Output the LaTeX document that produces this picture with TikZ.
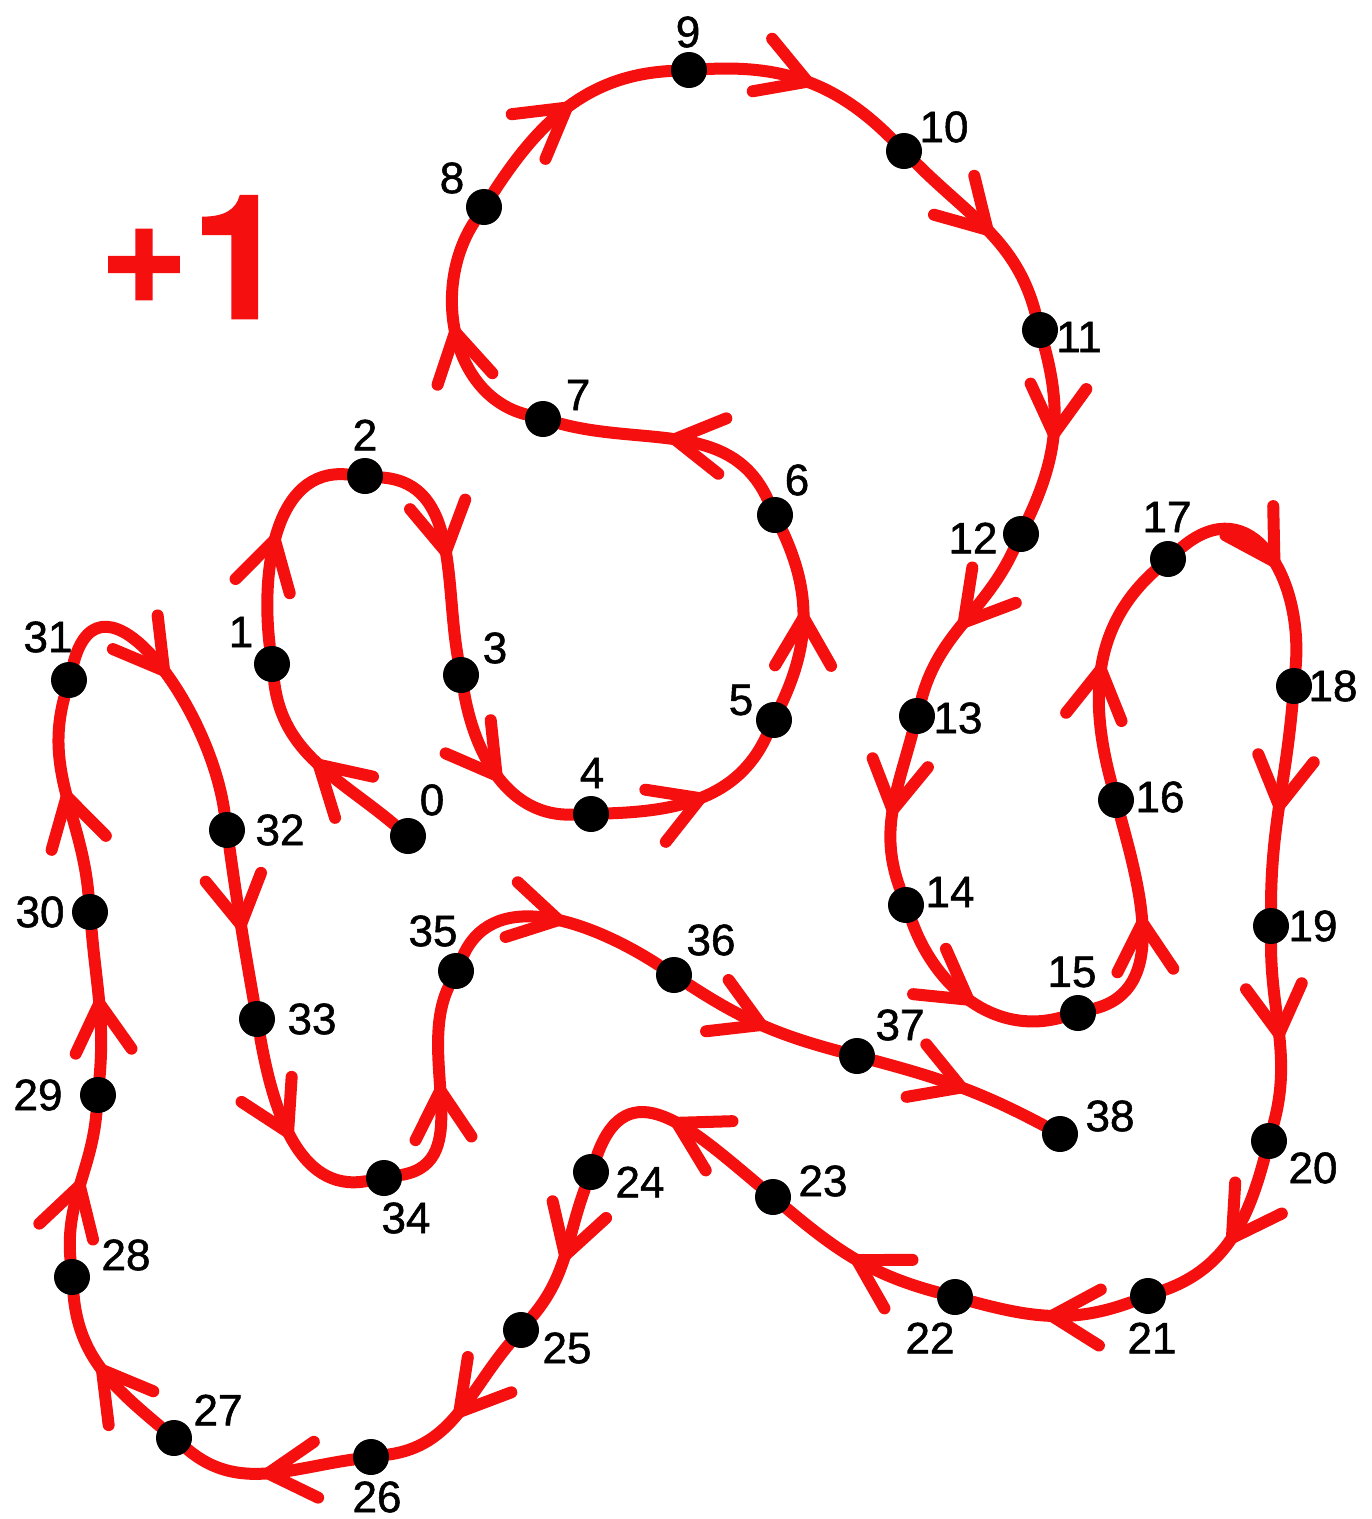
\documentclass[tikz,border=0pt]{standalone}
\usepackage{fontspec}
\usetikzlibrary{decorations.markings}
\newfontfamily\labfont[FakeBold=1.2]{Liberation Sans}
\newfontfamily\plusfont[FakeBold=1.5]{TeX Gyre Heros}
\definecolor{pathred}{RGB}{245,15,15}
\pgfdeclarelayer{back}
\pgfdeclarelayer{bg}
\pgfsetlayers{back,bg,main}
\begin{document}
\begin{tikzpicture}[x=1pt,y=1pt,
  dot/.style={circle,fill=black,inner sep=0pt,minimum size=36pt},
  num/.style={font=\labfont\fontsize{44}{44}\selectfont,inner sep=0pt},
  seg/.style={draw=pathred,line width=12pt,line cap=round},
  chev/.style={postaction={decorate,decoration={markings,mark=at position #1 with {\draw[pathred,line width=12pt,line cap=round,line join=round] (-48pt,28pt) -- (0pt,0pt) -- (-48pt,-28pt);}}}},
  chev/.default=0.5]
\begin{pgfonlayer}{back}
\fill[white] (0,0) rectangle (1372,-1519);
\end{pgfonlayer}
\useasboundingbox (0,0) rectangle (1372,-1519);
% title
\node[font=\plusfont\bfseries\fontsize{172}{172}\selectfont, text=pathred, inner sep=0pt, anchor=base west] (plus) at (100,-318) {{\fontsize{150}{150}\selectfont\raisebox{16pt}{+}}\kern4pt 1};
% dots
\node[dot] (n0) at (408,-836) {};
\node[dot] (n1) at (272,-664) {};
\node[dot] (n2) at (365,-476) {};
\node[dot] (n3) at (461,-675) {};
\node[dot] (n4) at (591,-814) {};
\node[dot] (n5) at (774,-720) {};
\node[dot] (n6) at (775,-515) {};
\node[dot] (n7) at (543,-419) {};
\node[dot] (n8) at (484,-207) {};
\node[dot] (n9) at (689,-70) {};
\node[dot] (n10) at (904,-151) {};
\node[dot] (n11) at (1040,-330) {};
\node[dot] (n12) at (1021,-534) {};
\node[dot] (n13) at (917,-716) {};
\node[dot] (n14) at (906,-905) {};
\node[dot] (n15) at (1078,-1013) {};
\node[dot] (n16) at (1116,-800) {};
\node[dot] (n17) at (1168,-559) {};
\node[dot] (n18) at (1294,-686) {};
\node[dot] (n19) at (1271,-926) {};
\node[dot] (n20) at (1269,-1141) {};
\node[dot] (n21) at (1148,-1296) {};
\node[dot] (n22) at (955,-1297) {};
\node[dot] (n23) at (773,-1197) {};
\node[dot] (n24) at (591,-1172) {};
\node[dot] (n25) at (521,-1330) {};
\node[dot] (n26) at (371,-1457) {};
\node[dot] (n27) at (174,-1438) {};
\node[dot] (n28) at (72,-1277) {};
\node[dot] (n29) at (98,-1095) {};
\node[dot] (n30) at (90,-912) {};
\node[dot] (n31) at (69,-680) {};
\node[dot] (n32) at (227,-830) {};
\node[dot] (n33) at (257,-1019) {};
\node[dot] (n34) at (384,-1178) {};
\node[dot] (n35) at (456,-971) {};
\node[dot] (n36) at (674,-975) {};
\node[dot] (n37) at (857,-1056) {};
\node[dot] (n38) at (1060,-1134) {};
% labels
\node[num] (l0) at (432,-800) {0};
\node[num] (l1) at (241,-632) {1};
\node[num] (l2) at (365,-435) {2};
\node[num] (l3) at (495,-648) {3};
\node[num] (l4) at (592,-773) {4};
\node[num] (l5) at (741,-700) {5};
\node[num] (l6) at (797,-480) {6};
\node[num] (l7) at (578,-395) {7};
\node[num] (l8) at (452,-178) {8};
\node[num] (l9) at (688,-32) {9};
\node[num] (l10) at (944,-127) {10};
\node[num] (l11) at (1079,-337) {11};
\node[num] (l12) at (973,-538) {12};
\node[num] (l13) at (958,-718) {13};
\node[num] (l14) at (950,-892) {14};
\node[num] (l15) at (1072,-972) {15};
\node[num] (l16) at (1160,-797) {16};
\node[num] (l17) at (1167,-517) {17};
\node[num] (l18) at (1333,-686) {18};
\node[num] (l19) at (1313,-926) {19};
\node[num] (l20) at (1313,-1168) {20};
\node[num] (l21) at (1152,-1338) {21};
\node[num] (l22) at (930,-1338) {22};
\node[num] (l23) at (823,-1181) {23};
\node[num] (l24) at (640,-1182) {24};
\node[num] (l25) at (567,-1348) {25};
\node[num] (l26) at (377,-1497) {26};
\node[num] (l27) at (218,-1410) {27};
\node[num] (l28) at (126,-1255) {28};
\node[num] (l29) at (38,-1095) {29};
\node[num] (l30) at (40,-912) {30};
\node[num] (l31) at (48,-637) {31};
\node[num] (l32) at (280,-830) {32};
\node[num] (l33) at (312,-1019) {33};
\node[num] (l34) at (406,-1218) {34};
\node[num] (l35) at (433,-931) {35};
\node[num] (l36) at (711,-940) {36};
\node[num] (l37) at (900,-1025) {37};
\node[num] (l38) at (1110,-1116) {38};
% path
\begin{pgfonlayer}{bg}
\draw[seg,chev] (n0) to[out=140,in=-83] (n1);
\draw[seg,chev] (n1) to[out=97,in=175] (n2);
\draw[seg,chev] (n2) to[out=-5,in=100] (n3);
\draw[seg,chev] (n3) to[out=-80,in=182] (n4);
\draw[seg,chev] (n4) to[out=2,in=245] (n5);
\draw[seg,chev] (n5) to[out=65,in=-65] (n6);
\draw[seg,chev] (n6) to[out=115,in=-15] (n7);
\draw[seg,chev] (n7) to[out=165,in=237] (n8);
\draw[seg,chev] (n8) to[out=57,in=183] (n9);
\draw[seg,chev] (n9) to[out=3,in=135] (n10);
\draw[seg,chev] (n10) to[out=-45,in=105] (n11);
\draw[seg,chev] (n11) to[out=-75,in=65] (n12);
\draw[seg,chev] (n12) to[out=-115,in=75] (n13);
\draw[seg,chev] (n13) to[out=-105,in=110] (n14);
\draw[seg,chev] (n14) to[out=-70,in=195] (n15);
\draw[seg,chev] (n15) to[out=15,in=-75] (n16);
\draw[seg,chev] (n16) to[out=105,in=222] (n17);
\draw[seg,chev] (n17) to[out=40,in=85,looseness=1.4] (n18);
\draw[seg,chev] (n18) to[out=-95,in=90] (n19);
\draw[seg,chev] (n19) to[out=-90,in=75] (n20);
\draw[seg,chev] (n20) to[out=-105,in=20] (n21);
\draw[seg,chev] (n21) to[out=-160,in=-15] (n22);
\draw[seg,chev] (n22) to[out=165,in=-40] (n23);
\draw[seg,chev] (n23) to[out=140,in=70,looseness=1.4] (n24);
\draw[seg,chev] (n24) to[out=-110,in=50] (n25);
\draw[seg,chev] (n25) to[out=-130,in=8] (n26);
\draw[seg,chev] (n26) to[out=-172,in=-40] (n27);
\draw[seg,chev] (n27) to[out=140,in=-85] (n28);
\draw[seg,chev] (n28) to[out=95,in=265] (n29);
\draw[seg,chev] (n29) to[out=85,in=-85] (n30);
\draw[seg,chev] (n30) to[out=95,in=255] (n31);
\draw[seg,chev=0.45] (n31) to[out=75,in=98,looseness=1.3] (n32);
\draw[seg,chev] (n32) to[out=-82,in=100] (n33);
\draw[seg,chev] (n33) to[out=-80,in=190] (n34);
\draw[seg,chev] (n34) to[out=10,in=245] (n35);
\draw[seg,chev] (n35) to[out=65,in=147] (n36);
\draw[seg,chev] (n36) to[out=-33,in=165] (n37);
\draw[seg,chev] (n37) to[out=-15,in=152] (n38);
\end{pgfonlayer}
\end{tikzpicture}
\end{document}
